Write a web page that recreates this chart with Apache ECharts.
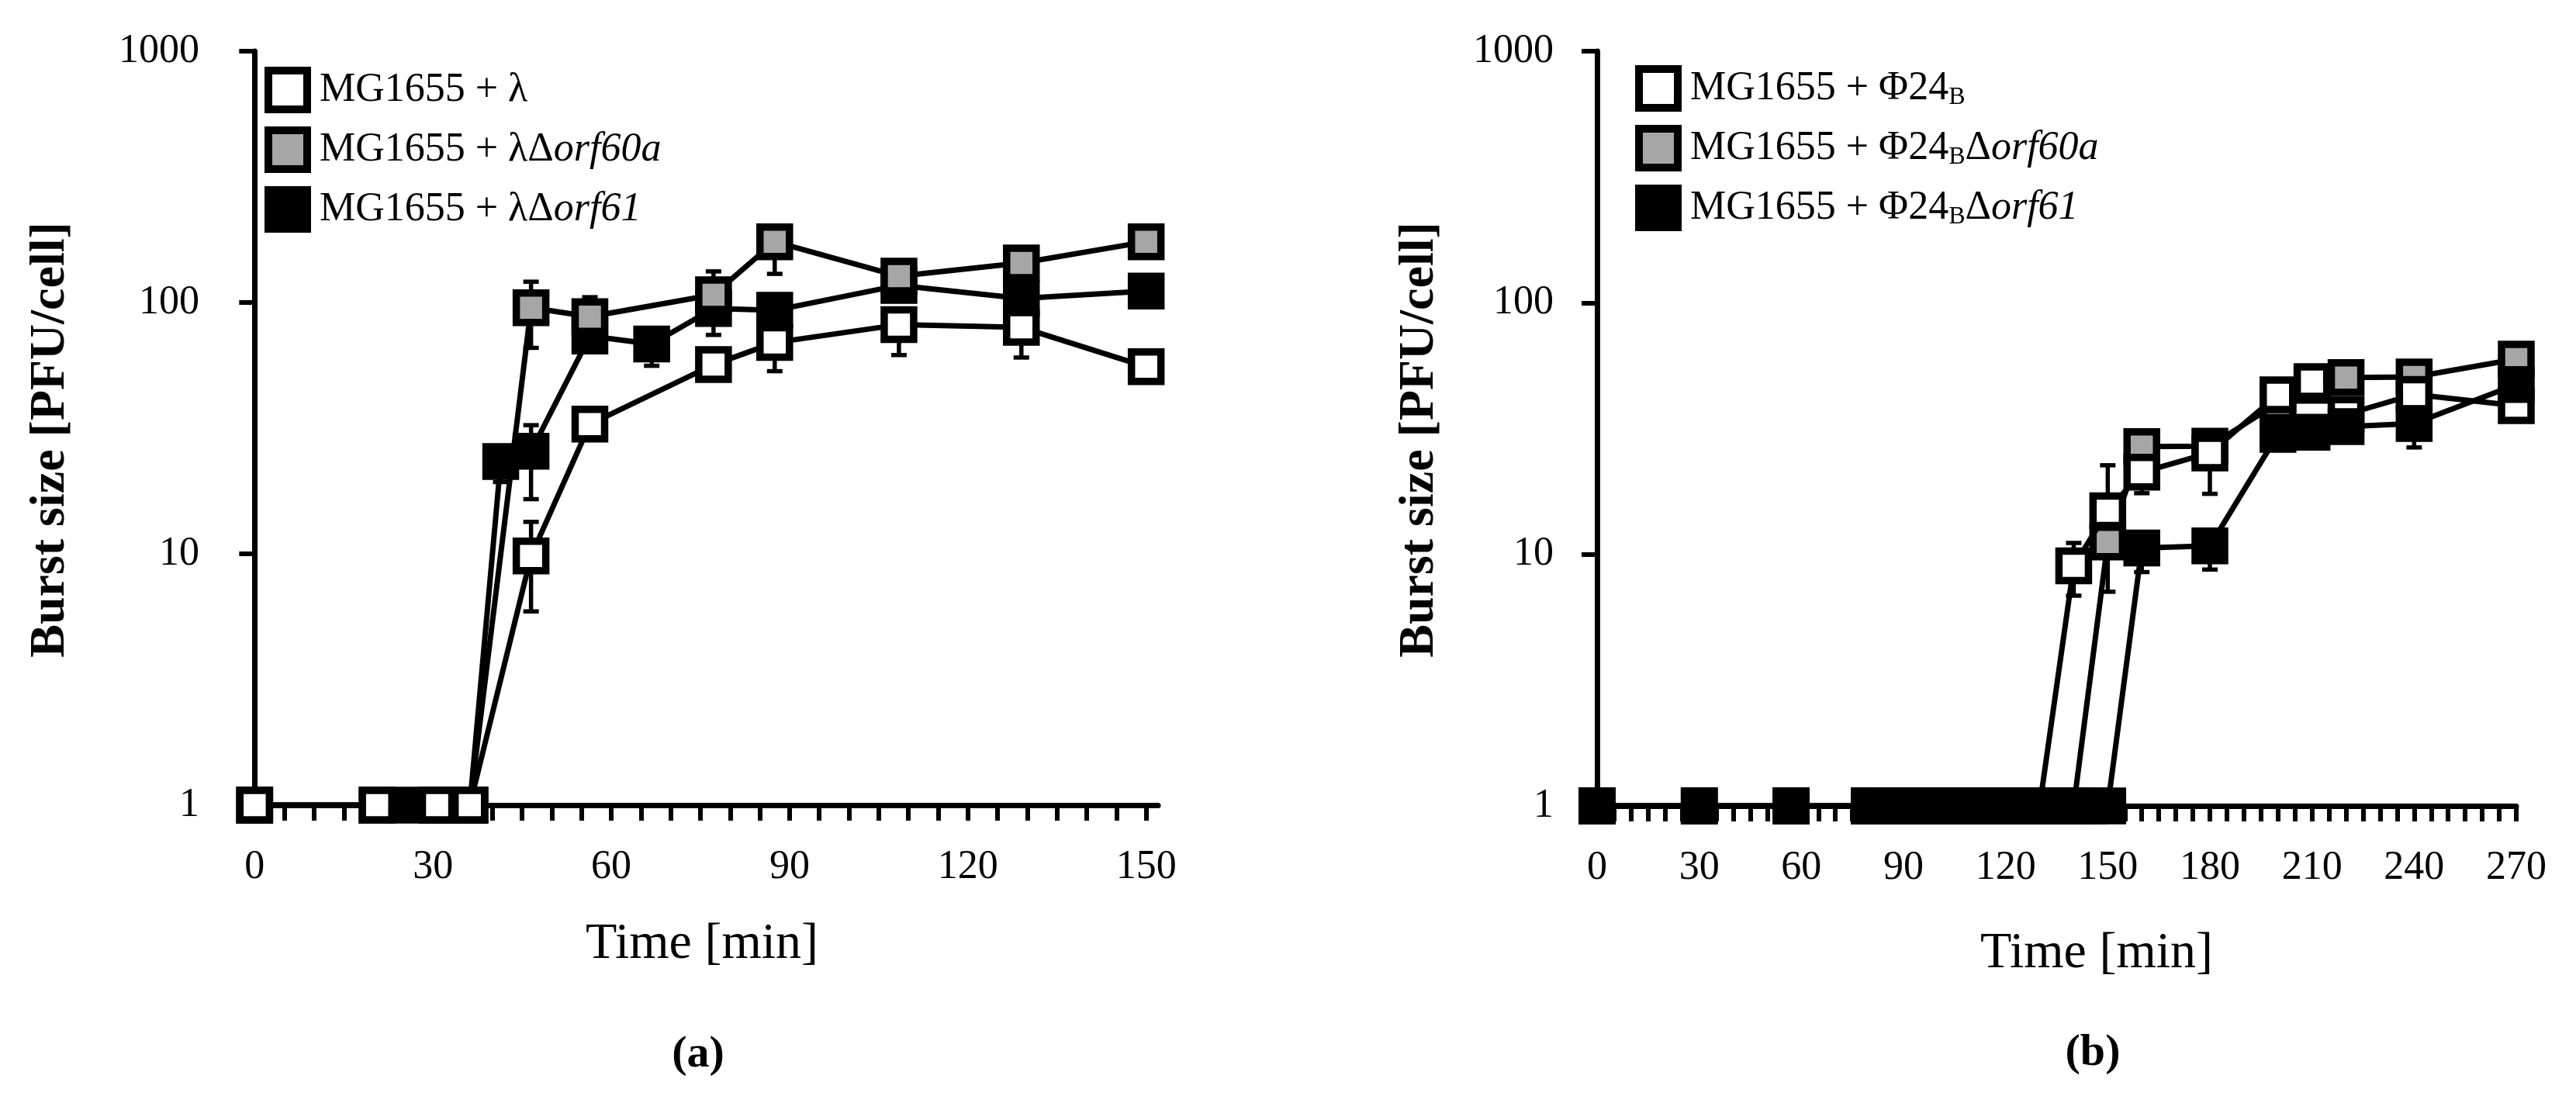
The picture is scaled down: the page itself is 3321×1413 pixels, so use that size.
<!DOCTYPE html>
<html>
<head>
<meta charset="utf-8">
<title>Burst size</title>
<script src="https://cdn.jsdelivr.net/npm/echarts@6/dist/echarts.min.js"></script>
<style>
html, body { margin: 0; padding: 0; background: #fff; }
#chart { width: 3321px; height: 1413px; }
</style>
</head>
<body>
<div id="chart"></div>
<script>
// ---- panel (a): MG1655 + lambda ----
var aTimeWhite = [0, 20.6, 30.7, 36.2, 46.5, 56.4, 77.2, 87.5, 108.4, 129, 150];
var aWhite     = [1, 1, 1, 1, 9.8, 32.8, 56.6, 69.3, 81.6, 79.6, 55.5];
var aTimeGray  = [0, 20.6, 30.7, 36.2, 46.5, 56.4, 77.2, 87.5, 108.4, 129, 150];
var aGray      = [1, 1, 1, 1, 95.3, 87.8, 107.4, 174.5, 127.3, 143.7, 174.5];
var aTimeBlack = [0, 25.7, 30.7, 36.2, 41.4, 46.5, 56.4, 66.8, 77.2, 87.5, 108.4, 129, 150];
var aBlack     = [1, 1, 1, 1, 23.3, 25.6, 73.5, 68.4, 94.7, 93.1, 117, 103.8, 111];
// error bars: [time, value, low, high] (null = not visible)
var aWhiteErr = [[46.5, 9.8, 5.9, 13.4], [87.5, 69.3, 53.3, null], [108.4, 81.6, 61.8, null], [129, 79.6, 60.4, null]];
var aGrayErr  = [[46.5, 95.3, 66, 121], [77.2, 107.4, null, 133], [87.5, 174.5, 130, null]];
var aBlackErr = [[41.4, 23.3, 19.3, null], [46.5, 25.6, 16.5, 32.5], [56.4, 73.5, null, 105],
                 [66.8, 68.4, 56, null], [77.2, 94.7, 74.3, null]];
var aTickLabels = [0, 30, 60, 90, 120, 150];

// ---- panel (b): MG1655 + Phi24B ----
var bTimeWhite = [0, 30, 57, 80, 85, 90, 95, 100, 105, 110, 115, 120, 125, 130,
                  140, 150, 160, 180, 200, 210, 220, 240, 270];
var bWhite     = [1, 1, 1, 1, 1, 1, 1, 1, 1, 1, 1, 1, 1, 1,
                  9, 14.9, 21.2, 25.3, 43.1, 48.6, 36, 43.2, 39];
var bTimeGray  = [0, 30, 57, 80, 85, 90, 95, 100, 105, 110, 115, 120, 125, 130, 135, 140,
                  150, 160, 180, 200, 210, 220, 240, 270];
var bGray      = [1, 1, 1, 1, 1, 1, 1, 1, 1, 1, 1, 1, 1, 1, 1, 1,
                  11.2, 26.8, 26.9, 40, 47, 50.4, 50.7, 59.7];
var bTimeBlack = [0, 30, 57, 80, 85, 90, 95, 100, 105, 110, 115, 120, 125, 130, 135, 140, 145, 150,
                  160, 180, 200, 210, 220, 240, 270];
var bBlack     = [1, 1, 1, 1, 1, 1, 1, 1, 1, 1, 1, 1, 1, 1, 1, 1, 1, 1,
                  10.6, 10.8, 30, 30.6, 32.2, 33.1, 47.3];
var bWhiteErr = [[140, 9, 6.85, 11.1], [150, 14.9, null, 22.6], [160, 21.2, 17.5, null], [180, 25.3, 17.4, null]];
var bGrayErr  = [[150, 11.2, 7.1, null]];
var bBlackErr = [[160, 10.6, 8.5, null], [180, 10.8, 8.7, null], [240, 33.1, 26.6, null]];
var bTickLabels = [0, 30, 60, 90, 120, 150, 180, 210, 240, 270];

var aNames = ['MG1655 + λ', 'MG1655 + λΔorf60a', 'MG1655 + λΔorf61'];
var bNames = ['MG1655 + Φ24B', 'MG1655 + Φ24BΔorf60a', 'MG1655 + Φ24BΔorf61'];
var richNames = {};
richNames[aNames[0]] = '{b|MG1655 + λ}';
richNames[aNames[1]] = '{b|MG1655 + λΔ}{i|orf60a}';
richNames[aNames[2]] = '{b|MG1655 + λΔ}{i|orf61}';
richNames[bNames[0]] = '{b|MG1655 + Φ24}{s|B}';
richNames[bNames[1]] = '{b|MG1655 + Φ24}{s|B}{b|Δ}{i|orf60a}';
richNames[bNames[2]] = '{b|MG1655 + Φ24}{s|B}{b|Δ}{i|orf61}';

var WHITE = '#ffffff', GRAY = '#a6a6a6', BLACK = '#000000';
var serif = '"Liberation Serif", "DejaVu Serif", serif';

function pairs(ts, vs) {
    return ts.map(function (t, i) { return [t, vs[i]]; });
}

function ticksEvery(step, max) {
    var out = [];
    for (var v = 0; v <= max; v += step) out.push(v);
    return out;
}

function lineSeries(name, ts, vs, fill, idx, z) {
    return {
        name: name,
        type: 'line',
        xAxisIndex: idx,
        yAxisIndex: idx,
        data: pairs(ts, vs),
        symbol: 'rect',
        symbolSize: 38,
        clip: false,
        z: z,
        lineStyle: { color: BLACK, width: 7 },
        itemStyle: { color: fill, borderColor: BLACK, borderWidth: 9.5 },
        emphasis: { disabled: true },
        animation: false
    };
}

function errSeries(list, idx) {
    return {
        type: 'custom',
        xAxisIndex: idx,
        yAxisIndex: idx,
        z: 1,
        silent: true,
        animation: false,
        data: list.map(function (e) { return [e[0], e[1]]; }),
        renderItem: function (params, api) {
            var e = list[params.dataIndex];
            var mid = api.coord([e[0], e[1]]);
            var top = e[3] != null ? api.coord([e[0], e[3]]) : mid;
            var bot = e[2] != null ? api.coord([e[0], e[2]]) : mid;
            var st = { stroke: BLACK, lineWidth: 5.5 };
            var kids = [{ type: 'line', shape: { x1: mid[0], y1: top[1], x2: mid[0], y2: bot[1] }, style: st }];
            if (e[3] != null) kids.push({ type: 'line', shape: { x1: mid[0] - 10, y1: top[1], x2: mid[0] + 10, y2: top[1] }, style: st });
            if (e[2] != null) kids.push({ type: 'line', shape: { x1: mid[0] - 10, y1: bot[1], x2: mid[0] + 10, y2: bot[1] }, style: st });
            return { type: 'group', children: kids };
        }
    };
}

function xAxisFor(idx, min, max, labels) {
    return {
        type: 'value',
        gridIndex: idx,
        min: min,
        max: max,
        axisLine: { onZero: false, lineStyle: { color: BLACK, width: 7 } },
        axisTick: { length: 20, lineStyle: { color: BLACK, width: 6 }, customValues: ticksEvery(5, labels[labels.length - 1]) },
        axisLabel: { customValues: labels, margin: 54, color: BLACK, fontFamily: serif, fontSize: 52 },
        splitLine: { show: false }
    };
}

function yAxisFor(idx) {
    return {
        type: 'log',
        logBase: 10,
        gridIndex: idx,
        min: 1,
        max: 1000,
        axisLine: { lineStyle: { color: BLACK, width: 7 } },
        axisTick: { length: 20, lineStyle: { color: BLACK, width: 6 } },
        axisLabel: {
            margin: 56, color: BLACK, fontFamily: serif, fontSize: 52,
            formatter: function (v) { return String(Math.round(v)); }
        },
        splitLine: { show: false }
    };
}

var richStyle = {
    b: { fontFamily: serif, fontSize: 52, lineHeight: 56, color: BLACK },
    i: { fontFamily: serif, fontStyle: 'italic', fontSize: 52, lineHeight: 56, color: BLACK },
    s: { fontFamily: serif, fontSize: 32, lineHeight: 20, verticalAlign: 'bottom', color: BLACK }
};

function legendFor(names, fills, left, top) {
    return {
        orient: 'vertical',
        left: left,
        top: top,
        padding: 0,
        icon: 'rect',
        itemWidth: 50,
        itemHeight: 50,
        itemGap: 17,
        selectedMode: false,
        lineStyle: { width: 0, opacity: 0 },
        data: names.map(function (n, i) {
            return { name: n, itemStyle: { color: fills[i], borderColor: BLACK, borderWidth: 10 } };
        }),
        formatter: function (name) { return richNames[name]; },
        textStyle: { padding: [0, 0, 0, 11], rich: richStyle }
    };
}

function label(text, x, y, size, weight, rot) {
    return {
        type: 'text',
        x: x,
        y: y,
        rotation: rot || 0,
        style: {
            text: text,
            fontFamily: serif,
            fontWeight: weight,
            fontSize: size,
            fill: BLACK,
            align: 'center',
            verticalAlign: 'middle'
        }
    };
}

var chart = echarts.init(document.getElementById('chart'), null, { renderer: 'canvas' });
chart.setOption({
    backgroundColor: '#ffffff',
    animation: false,
    grid: [
        { left: 313, top: 66, width: 1180, height: 972 },
        { left: 2059, top: 66, width: 1185, height: 973 }
    ],
    xAxis: [
        xAxisFor(0, -2, 152, aTickLabels),
        xAxisFor(1, 0, 270, bTickLabels)
    ],
    yAxis: [yAxisFor(0), yAxisFor(1)],
    legend: [
        legendFor(aNames, [WHITE, GRAY, BLACK], 341, 86),
        legendFor(bNames, [WHITE, GRAY, BLACK], 2108, 84)
    ],
    graphic: [
        label('Burst size [PFU/cell]', 65, 567, 64, 'bold', Math.PI / 2),
        label('Burst size [PFU/cell]', 1830, 567, 64, 'bold', Math.PI / 2),
        label('Time [min]', 905, 1218, 66, 'normal'),
        label('Time [min]', 2703, 1230, 66, 'normal'),
        label('(a)', 900, 1360, 58, 'bold'),
        label('(b)', 2698, 1358, 58, 'bold')
    ],
    series: [
        errSeries(aBlackErr, 0),
        errSeries(aGrayErr, 0),
        errSeries(aWhiteErr, 0),
        lineSeries(aNames[2], aTimeBlack, aBlack, BLACK, 0, 2),
        lineSeries(aNames[1], aTimeGray, aGray, GRAY, 0, 3),
        lineSeries(aNames[0], aTimeWhite, aWhite, WHITE, 0, 4),

        errSeries(bGrayErr, 1),
        errSeries(bWhiteErr, 1),
        errSeries(bBlackErr, 1),
        lineSeries(bNames[1], bTimeGray, bGray, GRAY, 1, 2),
        lineSeries(bNames[0], bTimeWhite, bWhite, WHITE, 1, 3),
        lineSeries(bNames[2], bTimeBlack, bBlack, BLACK, 1, 4)
    ]
});
</script>
</body>
</html>
